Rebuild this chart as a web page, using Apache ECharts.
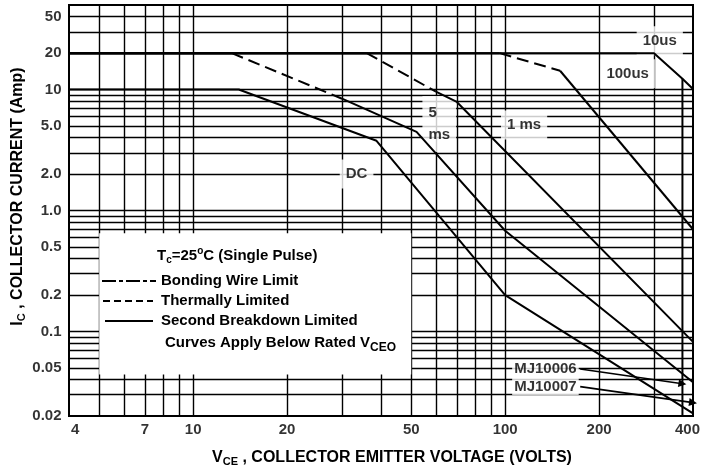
<!DOCTYPE html>
<html><head><meta charset="utf-8">
<script src="https://cdn.jsdelivr.net/npm/echarts@6/dist/echarts.min.js"></script>
<style>html,body{margin:0;padding:0;background:#fff}#c{width:701px;height:472px}</style>
</head><body><div id="c"></div>
<script>
// ---------------- data ----------------
const xMin = 4, xMax = 400, yMin = 0.02, yMax = 50;
const xTickValues = [4, 7, 10, 20, 50, 100, 200, 400];
const xTickLabels = ['4', '7', '10', '20', '50', '100', '200', '400'];
const yTickValues = [0.02, 0.05, 0.1, 0.2, 0.5, 1, 2, 5, 10, 20, 40];
const yTickLabels = ['0.02', '0.05', '0.1', '0.2', '0.5', '1.0', '2.0', '5.0', '10', '20', '50'];
const xGridValues = [5, 6, 7, 8, 9, 10, 20, 30, 40, 50, 60, 70, 80, 90, 100, 200, 300];
const yGridValues = [0.03, 0.04, 0.05, 0.06, 0.07, 0.08, 0.09, 0.1, 0.2, 0.3, 0.4, 0.5, 0.6, 0.7, 0.8, 0.9,
                     1, 2, 3, 4, 5, 6, 7, 8, 9, 10, 20, 30, 40];

// curves: V (volts) and I (amps)
const dcV = [4, 14, 38.7, 100, 400];
const dcI = [10, 10, 3.77, 0.2, 0.021];
const ms5V = [4, 13.3, 30, 52, 100, 400];
const ms5I = [20, 20, 8.4, 4.47, 0.68, 0.038];
const ms1V = [4, 36, 60, 70, 400];
const ms1I = [20, 20, 9.6, 7.9, 0.082];
const us100V = [4, 96, 150, 400];
const us100I = [20, 20, 14.3, 0.7];
const us10V = [4, 300, 370, 400, 400];
const us10I = [20, 20, 12.3, 10.1, 0.02];
const vceo6V = [370, 370];
const vceo6I = [12.3, 0.02];

// curve labels
const curveLabelText = ['10us', '100us', '1 ms', '5\nms', 'DC'];
const curveLabelV = [313, 247, 115, 54.1, 33.4];
const curveLabelI = [25.3, 13.5, 5.1, 5.2, 2.0];

// device labels with leader lines
const deviceLabels = ['MJ10006', 'MJ10007'];
const leaderStartV = [174, 174];
const leaderStartI = [0.049, 0.035];
const leaderEndV = [370, 400];
const leaderEndI = [0.037, 0.0258];

// legend box region (data space)
const boxV = [5, 50];
const boxI = [0.044, 0.65];

// ---------------- chart ----------------
const F = '"Liberation Sans", Arial, Helvetica, sans-serif';
const chart = echarts.init(document.getElementById('c'), null, { renderer: 'canvas' });

function curveSeries(V, I, dashedIdx) {
  const out = [];
  let i = 0;
  while (i < V.length - 1) {
    const dashed = dashedIdx.includes(i);
    let j = i;
    while (j < V.length - 1 && dashedIdx.includes(j) === dashed) j++;
    const pts = [];
    for (let k = i; k <= j; k++) pts.push([V[k], I[k]]);
    out.push({
      type: 'line', data: pts, symbol: 'none', z: 4, silent: true, clip: false,
      lineStyle: { color: '#000', width: 2, type: dashed ? [12, 6] : 'solid' }
    });
    i = j;
  }
  return out;
}

const curves = [
  ...curveSeries(dcV, dcI, []),
  ...curveSeries(ms5V, ms5I, [1]),
  ...curveSeries(ms1V, ms1I, [1]),
  ...curveSeries(us100V, us100I, [1]),
  ...curveSeries(us10V, us10I, []),
  ...curveSeries(vceo6V, vceo6I, [])
];

const txt = { color: '#000', fontSize: 15, fontWeight: 'bold', fontFamily: F };

const series = [
  // grid lines
  {
    type: 'line', data: [], z: 1, silent: true,
    markLine: {
      z: 1, silent: true, symbol: ['none', 'none'], label: { show: false }, animation: false,
      lineStyle: { color: '#000', width: 1.4, type: 'solid' },
      data: [...xGridValues.map(v => ({ xAxis: v })), ...yGridValues.map(v => ({ yAxis: v }))]
    }
  },
  // white legend box
  {
    type: 'line', data: [], z: 2, silent: true,
    markArea: {
      z: 2, silent: true, animation: false,
      itemStyle: { color: '#fff', opacity: 1 },
      data: [[{ coord: [boxV[0], boxI[0]] }, { coord: [boxV[1], boxI[1]] }]]
    }
  },
  // curve labels
  {
    type: 'scatter', z: 3, silent: true, clip: false, symbolSize: 1,
    itemStyle: { color: 'transparent' },
    data: curveLabelText.map((t, i) => ({
      value: [curveLabelV[i], curveLabelI[i]],
      label: t.indexOf('\n') >= 0 ? { position: 'right', distance: 0, align: 'left', lineHeight: 22, padding: [6, 6, 6, 6] } : {}
    })),
    label: {
      show: true, position: 'inside', formatter: p => curveLabelText[p.dataIndex],
      backgroundColor: '#fff', padding: [7, 6, 7, 6], ...txt
    }
  },
  // device labels + leaders
  {
    type: 'scatter', z: 5, silent: true, clip: false, symbolSize: 1,
    itemStyle: { color: 'transparent' },
    data: deviceLabels.map((t, i) => [leaderStartV[i], leaderStartI[i]]),
    label: {
      show: true, position: 'left', distance: 1, formatter: p => deviceLabels[p.dataIndex],
      backgroundColor: '#fff', padding: [1, 2, 1, 2], ...txt
    },
    markLine: {
      z: 5, silent: true, animation: false, symbol: ['none', 'triangle'], symbolSize: 8,
      label: { show: false },
      lineStyle: { color: '#000', width: 1.6, type: 'solid' },
      data: deviceLabels.map((t, i) => [
        { coord: [leaderStartV[i], leaderStartI[i]] },
        { coord: [leaderEndV[i], leaderEndI[i]] }
      ])
    }
  },
  // y tick labels
  {
    type: 'scatter', z: 5, silent: true, clip: false, symbolSize: 1,
    itemStyle: { color: 'transparent' },
    data: yTickValues.map(v => [xMin, v]),
    label: { show: true, position: 'left', distance: 7, formatter: p => yTickLabels[p.dataIndex], ...txt }
  },
  // x tick labels
  {
    type: 'scatter', z: 5, silent: true, clip: false, symbolSize: 1,
    itemStyle: { color: 'transparent' },
    data: xTickValues.map((v, i) => ({
      value: [v, yMin],
      label: i === 0 ? { align: 'left', offset: [2, 0] } : (i === xTickValues.length - 1 ? { align: 'right', offset: [7, 0] } : {})
    })),
    label: { show: true, position: 'bottom', distance: 6, formatter: p => xTickLabels[p.dataIndex], ...txt }
  },
  ...curves
];

const richName = {
  m: { fontSize: 16, fontWeight: 'bold', fontFamily: F, color: '#000' },
  sub: { fontSize: 11, fontWeight: 'bold', fontFamily: F, color: '#000', padding: [8, 0, 0, 0] }
};

chart.setOption({
  animation: false,
  backgroundColor: '#fff',
  grid: { left: 69, right: 8, top: 5, bottom: 54, show: true, borderColor: '#000', borderWidth: 2, backgroundColor: '#fff' },
  xAxis: {
    type: 'log', logBase: 10, min: xMin, max: xMax,
    axisLine: { show: false }, axisTick: { show: false }, axisLabel: { show: false }, splitLine: { show: false },
    name: '{m|V}{sub|CE}{m| , COLLECTOR EMITTER VOLTAGE (VOLTS)}',
    nameLocation: 'middle', nameGap: 32,
    nameTextStyle: { ...txt, fontSize: 16, padding: [0, 0, 0, 22], rich: richName }
  },
  yAxis: {
    type: 'log', logBase: 10, min: yMin, max: yMax,
    axisLine: { show: false }, axisTick: { show: false }, axisLabel: { show: false }, splitLine: { show: false },
    name: '{m|I}{sub|C}{m| , COLLECTOR CURRENT (Amp)}',
    nameLocation: 'middle', nameGap: 42, nameRotate: 90,
    nameTextStyle: { ...txt, fontSize: 16, padding: [0, 0, 0, 28], rich: richName }
  },
  graphic: [
    {
      type: 'text', x: 157, y: 256, z: 10, silent: true,
      style: {
        text: '{m|T}{sub|c}{m|=25}{sup|o}{m|C (Single Pulse)}', verticalAlign: 'middle', align: 'left',
        rich: {
          m: { fontSize: 15, fontWeight: 'bold', fontFamily: F, fill: '#000' },
          sub: { fontSize: 10, fontWeight: 'bold', fontFamily: F, fill: '#000', padding: [8, 0, 0, 0] },
          sup: { fontSize: 10, fontWeight: 'bold', fontFamily: F, fill: '#000', padding: [0, 0, 9, 0] }
        }
      }
    },
    { type: 'line', z: 10, silent: true, shape: { x1: 102, y1: 281, x2: 156, y2: 281 }, style: { stroke: '#000', lineWidth: 2, lineDash: [14, 3, 4, 3] } },
    { type: 'text', x: 161, y: 281, z: 10, silent: true, style: { text: 'Bonding Wire Limit', verticalAlign: 'middle', fontSize: 15, fontWeight: 'bold', fontFamily: F, fill: '#000' } },
    { type: 'line', z: 10, silent: true, shape: { x1: 103, y1: 301, x2: 153, y2: 301 }, style: { stroke: '#000', lineWidth: 2, lineDash: [7, 4] } },
    { type: 'text', x: 161, y: 301, z: 10, silent: true, style: { text: 'Thermally Limited', verticalAlign: 'middle', fontSize: 15, fontWeight: 'bold', fontFamily: F, fill: '#000' } },
    { type: 'line', z: 10, silent: true, shape: { x1: 105, y1: 321, x2: 153, y2: 321 }, style: { stroke: '#000', lineWidth: 2 } },
    { type: 'text', x: 161, y: 321, z: 10, silent: true, style: { text: 'Second Breakdown Limited', verticalAlign: 'middle', fontSize: 15, fontWeight: 'bold', fontFamily: F, fill: '#000' } },
    {
      type: 'text', x: 165, y: 343, z: 10, silent: true,
      style: {
        text: '{m|Curves Apply Below Rated V}{sub|CEO}', verticalAlign: 'middle', align: 'left',
        rich: {
          m: { fontSize: 15, fontWeight: 'bold', fontFamily: F, fill: '#000' },
          sub: { fontSize: 12, fontWeight: 'bold', fontFamily: F, fill: '#000', padding: [10, 0, 0, 0] }
        }
      }
    }
  ],
  series
});
</script>
</body></html>
